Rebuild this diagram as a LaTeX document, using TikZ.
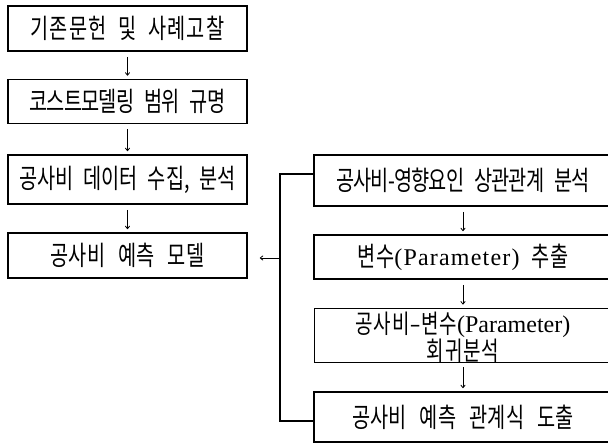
\documentclass[tikz,border=0pt]{standalone}
\usepackage{fontspec}
\setmainfont{Liberation Serif}
\newfontfamily\kr[FakeStretch=0.73]{Noto Sans CJK KR}
\newfontfamily\lat{Liberation Serif}
\newcommand\lsp[2]{\addfontfeatures{LetterSpace=#1}\spaceskip=#2pt\relax}
\newcommand\Lat[2]{\raisebox{1.2pt}{\fontsize{24}{26}\lat\addfontfeatures{LetterSpace=#1}#2}}
\usetikzlibrary{calc,arrows.meta}
\tikzset{
  lbox/.style={draw, line width=1.6pt, minimum width=239pt, inner sep=0pt, align=center,
    font=\fontsize{27}{27}\selectfont\kr},
  rbox/.style={draw, line width=1.6pt, minimum width=298pt, inner sep=0pt, align=center,
    font=\fontsize{27}{27}\selectfont\kr},
  thinbox/.style={rbox, line width=0.8pt},
  txt/.style={inner sep=0pt, font=\fontsize{26}{26}\selectfont\kr},
  arr/.style={line width=0.8pt, -{To[length=3.5pt,width=5pt]}, shorten <=5pt, shorten >=3pt},
  feed/.style={line width=1.5pt},
}
\begin{document}
\begin{tikzpicture}[x=1pt,y=-1pt]
\useasboundingbox (0,0) rectangle (608,443);
% left column
\node[lbox, minimum height=45pt] (b1) at (127.5,28.5) {\lsp{4}{12}기존문헌 및 사례고찰};
\node[lbox, minimum height=44pt] (b2) at (127.5,101.5) {\lsp{-3}{10}코스트모델링 범위 규명};
\node[lbox, minimum height=49pt] (b3) at (127.5,179.5) {\lsp{0}{10}공사비 데이터 수집, 분석};
\node[lbox, minimum height=45pt] (b4) at (127.5,255.5) {\lsp{1}{13}공사비 예측 모델};
% right column
\node[rbox, minimum height=51pt] (r1) at (463,180.5) {\lsp{-3}{10}공사비-영향요인 상관관계 분석};
\node[rbox, minimum height=44pt] (r2) at (463,257) {\lsp{1}{12}변수\Lat{5}{(Parameter)} 추출};
\node[thinbox, minimum height=54pt] (r3) at (463,335) {};
\node[txt] (r3a) at (463,325) {\lsp{3}{10}공사비–변수\Lat{0}{(Parameter)}};
\node[txt] (r3b) at (463,351) {\lsp{3}{10}회귀분석};
\node[rbox, minimum height=50pt] (r4) at (463,417) {\lsp{1}{13}공사비 예측 관계식 도출};
% arrows
\draw[arr] (b1) -- (b2);
\draw[arr] (b2) -- (b3);
\draw[arr] (b3) -- (b4);
\draw[arr] (r1) -- (r2);
\draw[arr] (r2) -- (r3);
\draw[arr] (r3) -- (r4);
% feedback
\coordinate (ftop) at (280,174);
\coordinate (fbot) at (280,421);
\coordinate (fmid) at (280,258);
\draw[feed] (ftop -| r1.west) -- (ftop) -- (fbot) -- (fbot -| r4.west);
\draw[line width=0.8pt, -{To[length=3.5pt,width=5pt]}, shorten >=12pt] (fmid) -- (b4.east |- fmid);
\end{tikzpicture}
\end{document}
